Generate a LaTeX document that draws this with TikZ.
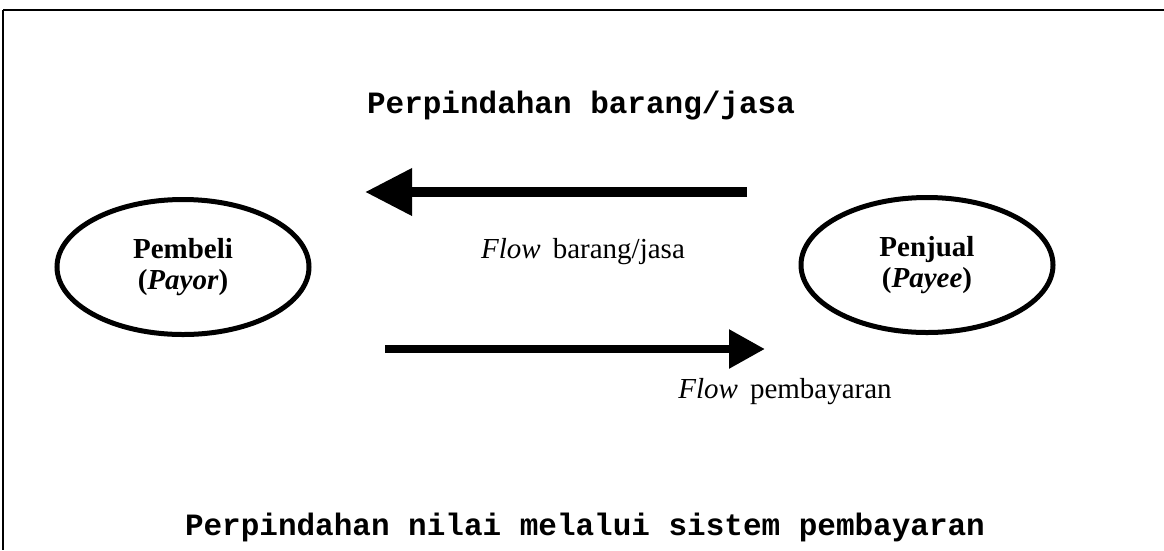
\documentclass[tikz,border=0pt]{standalone}
\usepackage{fontspec}
\setmainfont{Liberation Serif}
\newfontfamily\monofam{Liberation Mono}
\usetikzlibrary{arrows.meta,shapes.geometric}
\begin{document}
\begin{tikzpicture}[x=1pt,y=-1pt,
  party/.style={draw,line width=5pt,ellipse,minimum width=252pt,minimum height=135pt,inner sep=0pt,
    align=center,font=\fontsize{29}{31}\selectfont\bfseries},
  monolabel/.style={font=\fontsize{31}{33}\selectfont\monofam\bfseries},
  flowlabel/.style={font=\fontsize{29}{31}\selectfont,anchor=base},
  bigarrow/.style={line width=10pt,-{Triangle[length=47pt,width=45pt]}},
  smallarrow/.style={line width=8.5pt,-{Triangle[length=36pt,width=37pt]}}]
\useasboundingbox (0,0) rectangle (1164,550);
% frame
\draw[line width=2.5pt] (3,10) -- (1164,10);
\draw[line width=1.2pt] (3,10) -- (3,550);
% titles
\node[monolabel] (title) at (581,106) {Perpindahan barang/jasa};
\node[monolabel] (bottom) at (585,527) {Perpindahan nilai melalui sistem pembayaran};
% parties
\node[party] (buyer) at (183,267) {Pembeli\\(\textit{Payor})};
\node[party] (seller) at (927,265) {Penjual\\(\textit{Payee})};
% arrows
\coordinate (gTail) at (747,192);
\coordinate (gTip) at (365,192);
\draw[bigarrow] (gTail) -- (gTip);
\coordinate (pTail) at (385,349);
\coordinate (pTip) at (765,349);
\draw[smallarrow] (pTail) -- (pTip);
% flow labels
\node[flowlabel] (flowg) at (583,258) {\textit{Flow}\, barang/jasa};
\node[flowlabel] (flowp) at (785,398) {\textit{Flow}\, pembayaran};
\end{tikzpicture}
\end{document}
